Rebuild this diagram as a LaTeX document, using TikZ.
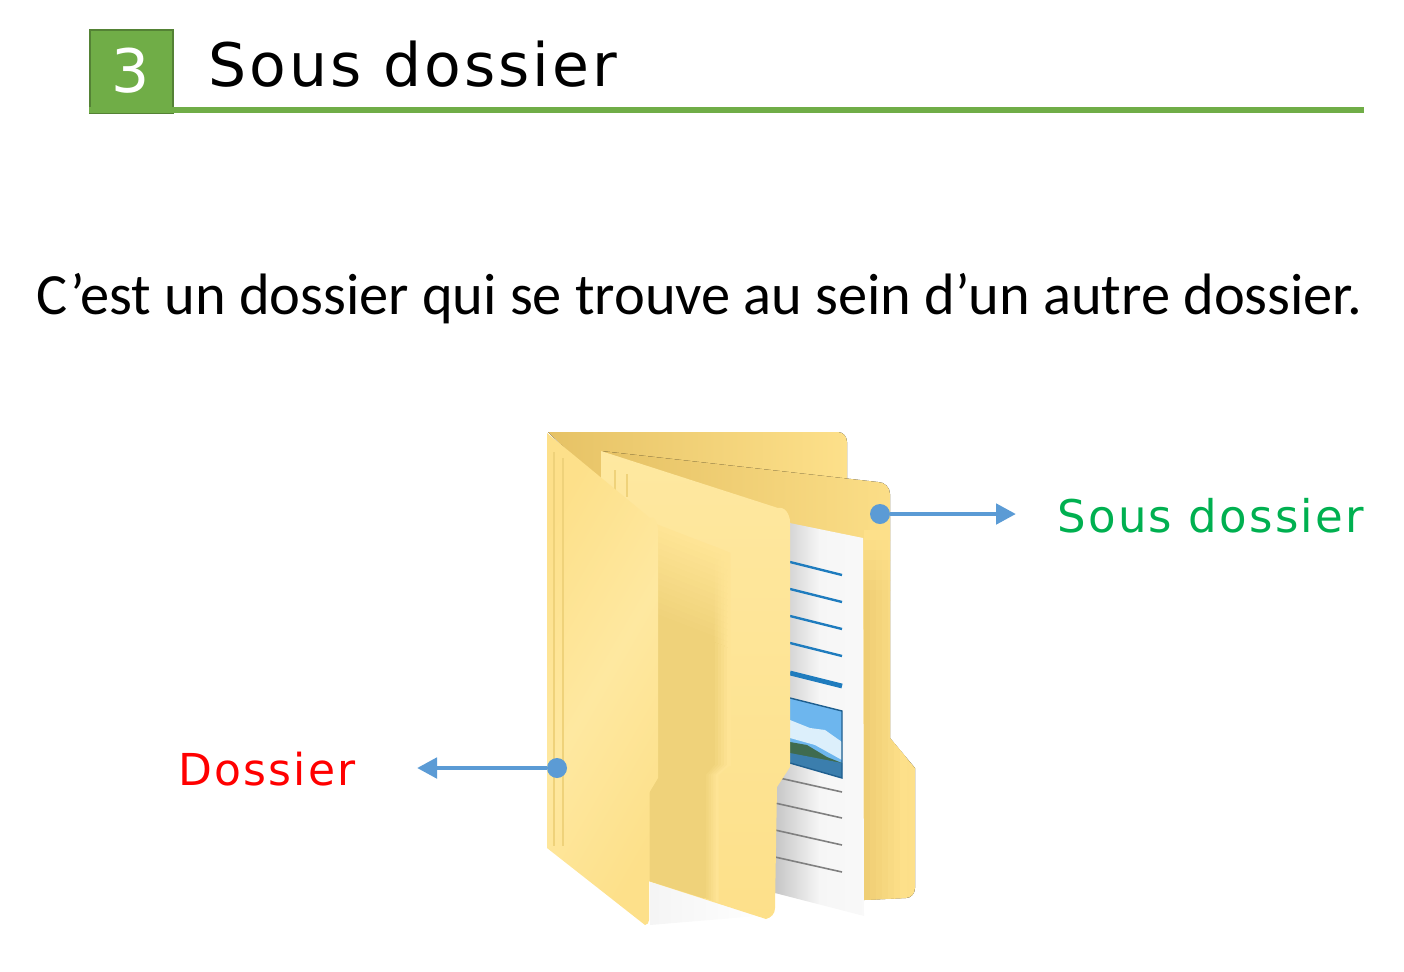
\documentclass[tikz,border=0pt]{standalone}
\usepackage{fontspec}
\setmainfont{Carlito}
\newfontfamily\headfont[LetterSpace=5]{DejaVu Sans}
\usetikzlibrary{arrows.meta}
\definecolor{bar green}{HTML}{70AD47}
\definecolor{bar edge}{HTML}{548235}
\definecolor{dot blue}{HTML}{5B9BD5}
\definecolor{label green}{HTML}{00B050}
\definecolor{folder light}{HTML}{FEE8A0}
\definecolor{folder mid}{HTML}{FDE08A}
\definecolor{folder dark}{HTML}{EFD27A}
\definecolor{folder deep}{HTML}{E6C265}
\definecolor{panel base}{HTML}{FEE495}
\definecolor{line blue}{HTML}{1F7CBE}
\definecolor{sky blue}{HTML}{6DB6EE}
\definecolor{cloud white}{HTML}{DCEFFB}
\definecolor{hill green}{HTML}{3F6B4F}
\definecolor{water blue}{HTML}{3B7EAD}
\definecolor{photo edge}{HTML}{1F5F8F}
\begin{document}
\begin{tikzpicture}[x=.5pt,y=-.5pt,
        back panel/.style={left color=folder deep, right color=folder mid},
        front panel/.style={left color=folder mid, right color=folder mid, middle color=folder light, shading angle=60},
        band cell/.style={fill=#1, draw=#1, line width=.3pt},
        text line/.style={line blue, line width=1.2pt},
        grey line/.style={gray, line width=.8pt},
        pointer/.style={dot blue, line width=2.4pt, -{Triangle[length=10pt,width=10pt]}},
        dot mark/.style={circle, fill=dot blue, inner sep=0pt, minimum size=10pt},
        head text/.style={anchor=base west, inner sep=0pt, font=\headfont\fontsize{30}{30}\selectfont},
        side text/.style={anchor=base west, inner sep=0pt, font=\headfont\fontsize{22.5}{22.5}\selectfont}]
        \useasboundingbox (0,0) rectangle (1404,971);

        % heading
        \node[fill=bar green, draw=bar edge, line width=1pt, minimum width=41.5pt, minimum height=41.5pt, inner sep=0pt,
          text=white, font=\headfont\fontsize{30}{30}\selectfont] (number) at (131,71) {3};
        \fill[bar green] (89,107) rectangle (1364,113);
        \node[head text] (title) at (208,86) {Sous dossier};

        % sentence
        \node[anchor=base west, inner sep=0pt, font=\fontsize{29.2}{29.2}\selectfont] (sentence) at (36,314)
          {C’est un dossier qui se trouve au sein d’un autre dossier.};

        % folder, back to front
        \fill[back panel] (548,432)--(838,432) to[out=0,in=90] (847,442)--(847,500)--(650,530)--cycle;
        \fill[back panel] (601,451)--(878,482) to[out=0,in=90] (890,494)--(890,738)--(915,768)--(915,888)
          to[out=-90,in=0] (906,898)--(864,900)--(790,700)--(650,800)--cycle;
        % shadow of the paper on the back panel
        \begin{scope}
          \clip (864,530)--(890,530)--(890,738)--(915,768)--(915,888) to[out=-90,in=0] (906,898)--(864,900)--cycle;
          \foreach \j in {0,...,6}
            \foreach \i in {0,...,6} {
              \pgfmathsetmacro\p{(6-\j)*10*\i/6}
              \path[band cell=folder deep!\p!folder mid] (864+\j*6,530+\i*10) rectangle (870+\j*6,540+\i*10);
              \ifnum\i=6
                \path[band cell=folder deep!\p!folder mid] (864+\j*6,600) rectangle (870+\j*6,900);
              \fi
            }
        \end{scope}
        \shade[left color=gray!8, right color=white] (650,882)--(770,915)--(650,925)--cycle;

        % paper
        \shade[left color=gray!45, right color=white!95!gray, middle color=white!93!gray] (775,520)--(863,538)--(864,916)--(775,893)--cycle;
        \foreach \y in {562,589,616,643}
          \draw[text line] (790,\y)--(842,\y+13);
        \draw[line blue, line width=2.4pt] (790,673)--(842,686);
        \fill[sky blue] (790,698)--(842,711)--(842,778)--(790,763)--cycle;
        \fill[cloud white] (790,720)--(810,728)--(825,730)--(842,742)--(842,760)--(815,745)--(790,738)--cycle;
        \fill[hill green] (790,742)--(807,745)--(827,757)--(842,763)--(842,770)--(790,756)--cycle;
        \fill[water blue] (790,753)--(842,763)--(842,778)--(790,763)--cycle;
        \draw[photo edge, line width=.7pt] (790,698)--(842,711)--(842,778)--(790,763);
        \foreach \y in {777,803,830,857}
          \draw[grey line] (775,\y)--(842,\y+15);

        % middle panel
        \shade[top color=folder light, bottom color=folder mid] (601,451)--(778,508) to[out=15,in=90] (790,522)--(790,767)--(777,787)--(775,908)
          to[out=-90,in=15] (766,919)--(645,880)--(601,600)--cycle;
        % darker band, fading in from the top and out to the right
        \foreach \i in {0,...,15} {
          \pgfmathsetmacro\p{\i*100/15}
          \path[band cell=folder dark!\p!panel base] (650,522+\i*6)--(712,546+\i*6)--(712,552+\i*6)--(650,528+\i*6)--cycle;
          \foreach \j in {0,...,5} {
            \pgfmathsetmacro\q{\p*(5-\j)/5}
            \path[band cell=folder dark!\q!panel base] (712+\j*3,546+\j*1.2+\i*6)--(715+\j*3,547+\j*1.2+\i*6)--(715+\j*3,553+\j*1.2+\i*6)--(712+\j*3,552+\j*1.2+\i*6)--cycle;
          }
        }
        \path[band cell=folder dark] (650,618)--(712,642)--(712,765)--(704,775)--(704,898)--(650,881)--cycle;
        \foreach \j in {0,...,5} {
          \pgfmathsetmacro\q{100*(5-\j)/5}
          \path[band cell=folder dark!\q!panel base] (712+\j*3,642+\j*1.2) rectangle (715+\j*3,765);
          \path[band cell=folder dark!\q!panel base] (704+\j*2.4,775)--(706.4+\j*2.4,775)--(706.4+\j*2.4,898+\j*.77)--(704+\j*2.4,897.5+\j*.77)--cycle;
          \path[band cell=folder dark!\q!panel base] (712+\j*3,765)--(715+\j*3,765)--(706.4+\j*2.4,775)--(704+\j*2.4,775)--cycle;
        }
        \draw[folder dark, line width=1pt] (615,470)--(615,490) (627,474)--(627,497);

        % front panel
        \shade[front panel] (547,433)--(650,518) to[out=40,in=90] (658,530)--(658,778)--(649,793)--(649,920)
          to[out=-90,in=0] (645,925)--(547,848)--cycle;
        \draw[folder dark, line width=.8pt] (554,452)--(554,846) (563,458)--(563,846);

        % pointers
        \node[dot mark] (sub dot) at (880,514) {};
        \coordinate (sub end) at (1016,514);
        \draw[pointer] (sub dot)--(sub end);
        \node[side text, text=label green] (sub label) at (1057,532) {Sous dossier};

        \node[dot mark] (main dot) at (557,768) {};
        \coordinate (main end) at (417,768);
        \draw[pointer] (main dot)--(main end);
        \node[side text, text=red, font=\headfont\fontsize{22}{22}\selectfont] (main label) at (178,785) {Dossier};
      \end{tikzpicture}
\end{document}
